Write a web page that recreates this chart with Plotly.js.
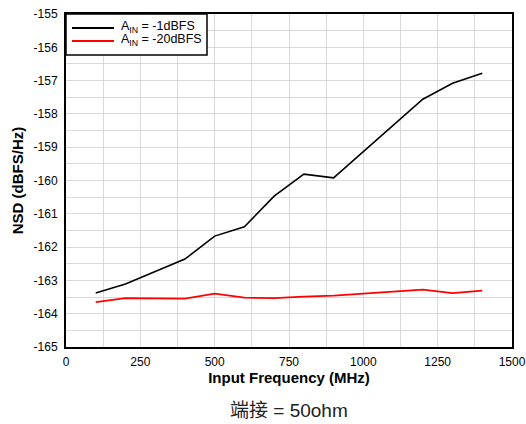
<!DOCTYPE html>
<html>
<head>
<meta charset="utf-8">
<script src="https://cdn.plot.ly/plotly-3.0.1.min.js"></script>
<style>
  html, body { margin: 0; padding: 0; background: #fff; }
  #chart { width: 526px; height: 424px; }
</style>
</head>
<body>
<div id="chart"></div>
<script>
// Input frequency (MHz) at which noise spectral density was measured
var freqMHz = [100, 200, 400, 500, 600, 700, 800, 900, 1200, 1300, 1400];
// NSD (dBFS/Hz) for a -1 dBFS input
var nsdMinus1 = [-163.38, -163.11, -162.36, -161.67, -161.39, -160.47, -159.81, -159.92, -157.56, -157.08, -156.78];
// NSD (dBFS/Hz) for a -20 dBFS input
var nsdMinus20 = [-163.65, -163.53, -163.55, -163.40, -163.52, -163.53, -163.49, -163.46, -163.28, -163.38, -163.31];

var seriesNames = ['A<sub>IN</sub> = -1dBFS', 'A<sub>IN</sub> = -20dBFS'];
var seriesColors = ['#000000', '#ff0000'];
var xTicks = [0, 250, 500, 750, 1000, 1250, 1500];
var yTicks = [-165, -164, -163, -162, -161, -160, -159, -158, -157, -156, -155];

var font = 'Liberation Sans, Arial, sans-serif';
var gridColor = '#d9d9d9';

var traces = [
  { x: freqMHz, y: nsdMinus1, name: seriesNames[0], type: 'scatter', mode: 'lines',
    line: { color: seriesColors[0], width: 1.6 } },
  { x: freqMHz, y: nsdMinus20, name: seriesNames[1], type: 'scatter', mode: 'lines',
    line: { color: seriesColors[1], width: 1.8 } }
];

// Compact boxed legend in the top-left corner of the plot area
var legendShapes = [{
  type: 'rect', xref: 'paper', yref: 'paper',
  xsizemode: 'pixel', xanchor: 0, x0: 0, x1: 141,
  ysizemode: 'pixel', yanchor: 1, y0: 0, y1: -41,
  fillcolor: '#ffffff', line: { color: '#000000', width: 1.5 }, layer: 'above'
}];
var legendNotes = [];
seriesNames.forEach(function (name, i) {
  var dy = -14 - 13 * i;
  legendShapes.push({
    type: 'line', xref: 'paper', yref: 'paper',
    xsizemode: 'pixel', xanchor: 0, x0: 6, x1: 48,
    ysizemode: 'pixel', yanchor: 1, y0: dy, y1: dy,
    line: { color: seriesColors[i], width: 1.8 }, layer: 'above'
  });
  legendNotes.push({
    text: name, xref: 'paper', yref: 'paper', x: 0, y: 1,
    xshift: 53, yshift: dy + 1, xanchor: 'left', yanchor: 'middle', showarrow: false,
    height: 12, valign: 'middle',
    font: { family: font, size: 12.5, color: '#000000' }
  });
});

var layout = {
  width: 526, height: 424,
  margin: { l: 66, r: 14, t: 14, b: 77 },
  paper_bgcolor: '#ffffff', plot_bgcolor: '#ffffff',
  font: { family: font, size: 12, color: '#000000' },
  showlegend: false,
  xaxis: {
    range: [0, 1500], tickvals: xTicks, ticktext: xTicks.map(String),
    showgrid: true, gridcolor: gridColor, gridwidth: 1,
    minor: { dtick: 125, tick0: 0, showgrid: true, gridcolor: gridColor, gridwidth: 1, ticks: '' },
    zeroline: false, showline: true, linecolor: '#000000', linewidth: 2, mirror: true,
    ticks: '', ticklabelstandoff: 3, tickfont: { family: font, size: 12, color: '#000000' },
    title: { text: '<b>Input Frequency (MHz)</b>', font: { family: font, size: 15, color: '#000000' }, standoff: 1 }
  },
  yaxis: {
    range: [-165, -155], tickvals: yTicks, ticktext: yTicks.map(String),
    showgrid: true, gridcolor: gridColor, gridwidth: 1,
    minor: { dtick: 0.5, tick0: -165, showgrid: true, gridcolor: gridColor, gridwidth: 1, ticks: '' },
    zeroline: false, showline: true, linecolor: '#000000', linewidth: 2, mirror: true,
    ticks: '', ticklabelstandoff: 4, tickfont: { family: font, size: 12, color: '#000000' },
    title: { text: '<b>NSD (dBFS/Hz)</b>', font: { family: font, size: 15, color: '#000000' }, standoff: 6 }
  },
  shapes: legendShapes,
  annotations: legendNotes.concat([{
    text: '端接 = 50ohm', xref: 'paper', yref: 'paper', x: 0.5, y: 0, yshift: -63,
    xanchor: 'center', yanchor: 'middle', showarrow: false,
    font: { family: 'Liberation Sans, Noto Sans CJK SC, sans-serif', size: 19, color: '#222222' }
  }])
};

Plotly.newPlot('chart', traces, layout, { displayModeBar: false, staticPlot: true });
</script>
</body>
</html>
